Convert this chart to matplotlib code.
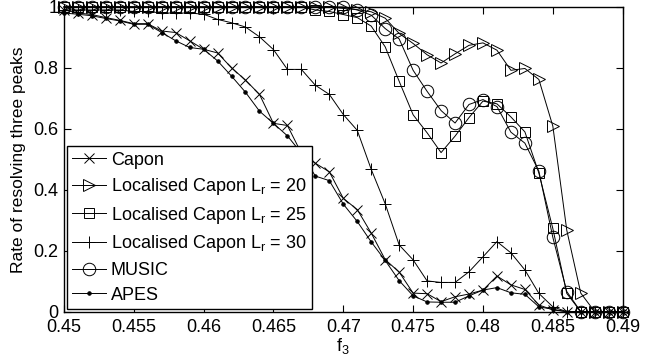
import numpy as np
import matplotlib
matplotlib.use("Agg")
import matplotlib.pyplot as plt

plt.rcParams['font.family'] = ['Liberation Sans', 'DejaVu Sans']
plt.rcParams['mathtext.default'] = 'regular'

f3 = np.linspace(0.45, 0.49, 41)

capon = [0.99, 0.98, 0.975, 0.965, 0.956, 0.945, 0.945, 0.921, 0.916, 0.889,
         0.861, 0.849, 0.800, 0.760, 0.713, 0.618, 0.611, 0.52, 0.487, 0.459,
         0.372, 0.335, 0.258, 0.171, 0.130, 0.061, 0.059, 0.033, 0.049, 0.058,
         0.071, 0.117, 0.088, 0.073, 0.022, 0.006, 0, 0, 0, 0, 0]

lc20 = [1.0] * 20 + [0.995, 0.991, 0.984, 0.963, 0.913, 0.880, 0.843, 0.816,
                     0.846, 0.874, 0.882, 0.858, 0.792, 0.798, 0.762, 0.609,
                     0.267, 0.061, 0, 0, 0]

lc25 = [1.0] * 18 + [0.99, 0.985, 0.975, 0.965, 0.937, 0.869, 0.756, 0.646,
                     0.587, 0.522, 0.576, 0.637, 0.691, 0.682, 0.639, 0.590,
                     0.455, 0.273, 0.060, 0, 0, 0, 0]

lc30 = [0.99, 0.99, 0.99, 0.99, 0.99, 0.985, 0.985, 0.98, 0.98, 0.98,
        0.976, 0.959, 0.948, 0.934, 0.902, 0.860, 0.795, 0.795, 0.743, 0.713,
        0.647, 0.595, 0.467, 0.354, 0.219, 0.170, 0.101, 0.096, 0.096, 0.131,
        0.180, 0.230, 0.193, 0.137, 0.060, 0.016, 0, 0, 0, 0, 0]

music = [1.0] * 21 + [0.99, 0.973, 0.929, 0.895, 0.792, 0.723, 0.660, 0.619,
                      0.680, 0.696, 0.673, 0.589, 0.553, 0.461, 0.244, 0.066,
                      0, 0, 0, 0]

apes = [0.98, 0.976, 0.971, 0.962, 0.954, 0.943, 0.943, 0.916, 0.889, 0.867,
        0.861, 0.823, 0.773, 0.720, 0.658, 0.618, 0.577, 0.52, 0.445, 0.430,
        0.353, 0.296, 0.229, 0.168, 0.102, 0.052, 0.032, 0.031, 0.031, 0.052,
        0.071, 0.079, 0.062, 0.057, 0.016, 0.008, 0, 0, 0, 0, 0]

labels = ['Capon',
          r'Localised Capon L$_r$ = 20',
          r'Localised Capon L$_r$ = 25',
          r'Localised Capon L$_r$ = 30',
          'MUSIC',
          'APES']

xticks = [0.45, 0.455, 0.46, 0.465, 0.47, 0.475, 0.48, 0.485, 0.49]
xticklabels = ['0.45', '0.455', '0.46', '0.465', '0.47', '0.475', '0.48', '0.485', '0.49']
yticks = [0, 0.2, 0.4, 0.6, 0.8, 1.0]
yticklabels = ['0', '0.2', '0.4', '0.6', '0.8', '1']

fig = plt.figure(figsize=(6.54, 3.64), dpi=100)
ax = fig.add_axes([0.0977, 0.1437, 0.9521 - 0.0977, 0.981 - 0.1437])

series = [capon, lc20, lc25, lc30, music, apes]
styles = [dict(marker='x', markersize=7),
          dict(marker='>', markersize=9),
          dict(marker='s', markersize=7),
          dict(marker='+', markersize=9),
          dict(marker='o', markersize=9),
          dict(marker='.', markersize=5)]

for ys, st, lab in zip(series, styles, labels):
    fill = 'black' if st['marker'] == '.' else 'none'
    ax.plot(f3, ys, color='black', linewidth=0.7, markerfacecolor=fill,
            markeredgecolor='black', markeredgewidth=0.7, clip_on=False,
            label=lab, **st)

ax.set_xlim(0.45, 0.49)
ax.set_ylim(0, 1)
ax.set_xticks(xticks)
ax.set_xticklabels(xticklabels)
ax.set_yticks(yticks)
ax.set_yticklabels(yticklabels)
ax.tick_params(direction='in', top=True, right=True, length=5, width=0.8,
               labelsize=13)
ax.tick_params(axis='x', pad=5)
ax.tick_params(axis='y', pad=4)
for s in ax.spines.values():
    s.set_linewidth(1.0)

ax.set_xlabel(r'f$_3$', fontsize=13, labelpad=0)
ax.set_ylabel('Rate of resolving three peaks', fontsize=12.5, labelpad=5)

leg = ax.legend(loc='lower left', bbox_to_anchor=(0, 0), borderaxespad=0.15,
                fontsize=13, frameon=True, fancybox=False, framealpha=1,
                edgecolor='black', handlelength=1.9, handletextpad=0.25,
                labelspacing=0.42, borderpad=0.3)
leg.get_frame().set_linewidth(1.0)

fig.savefig('out.png', dpi=100)
